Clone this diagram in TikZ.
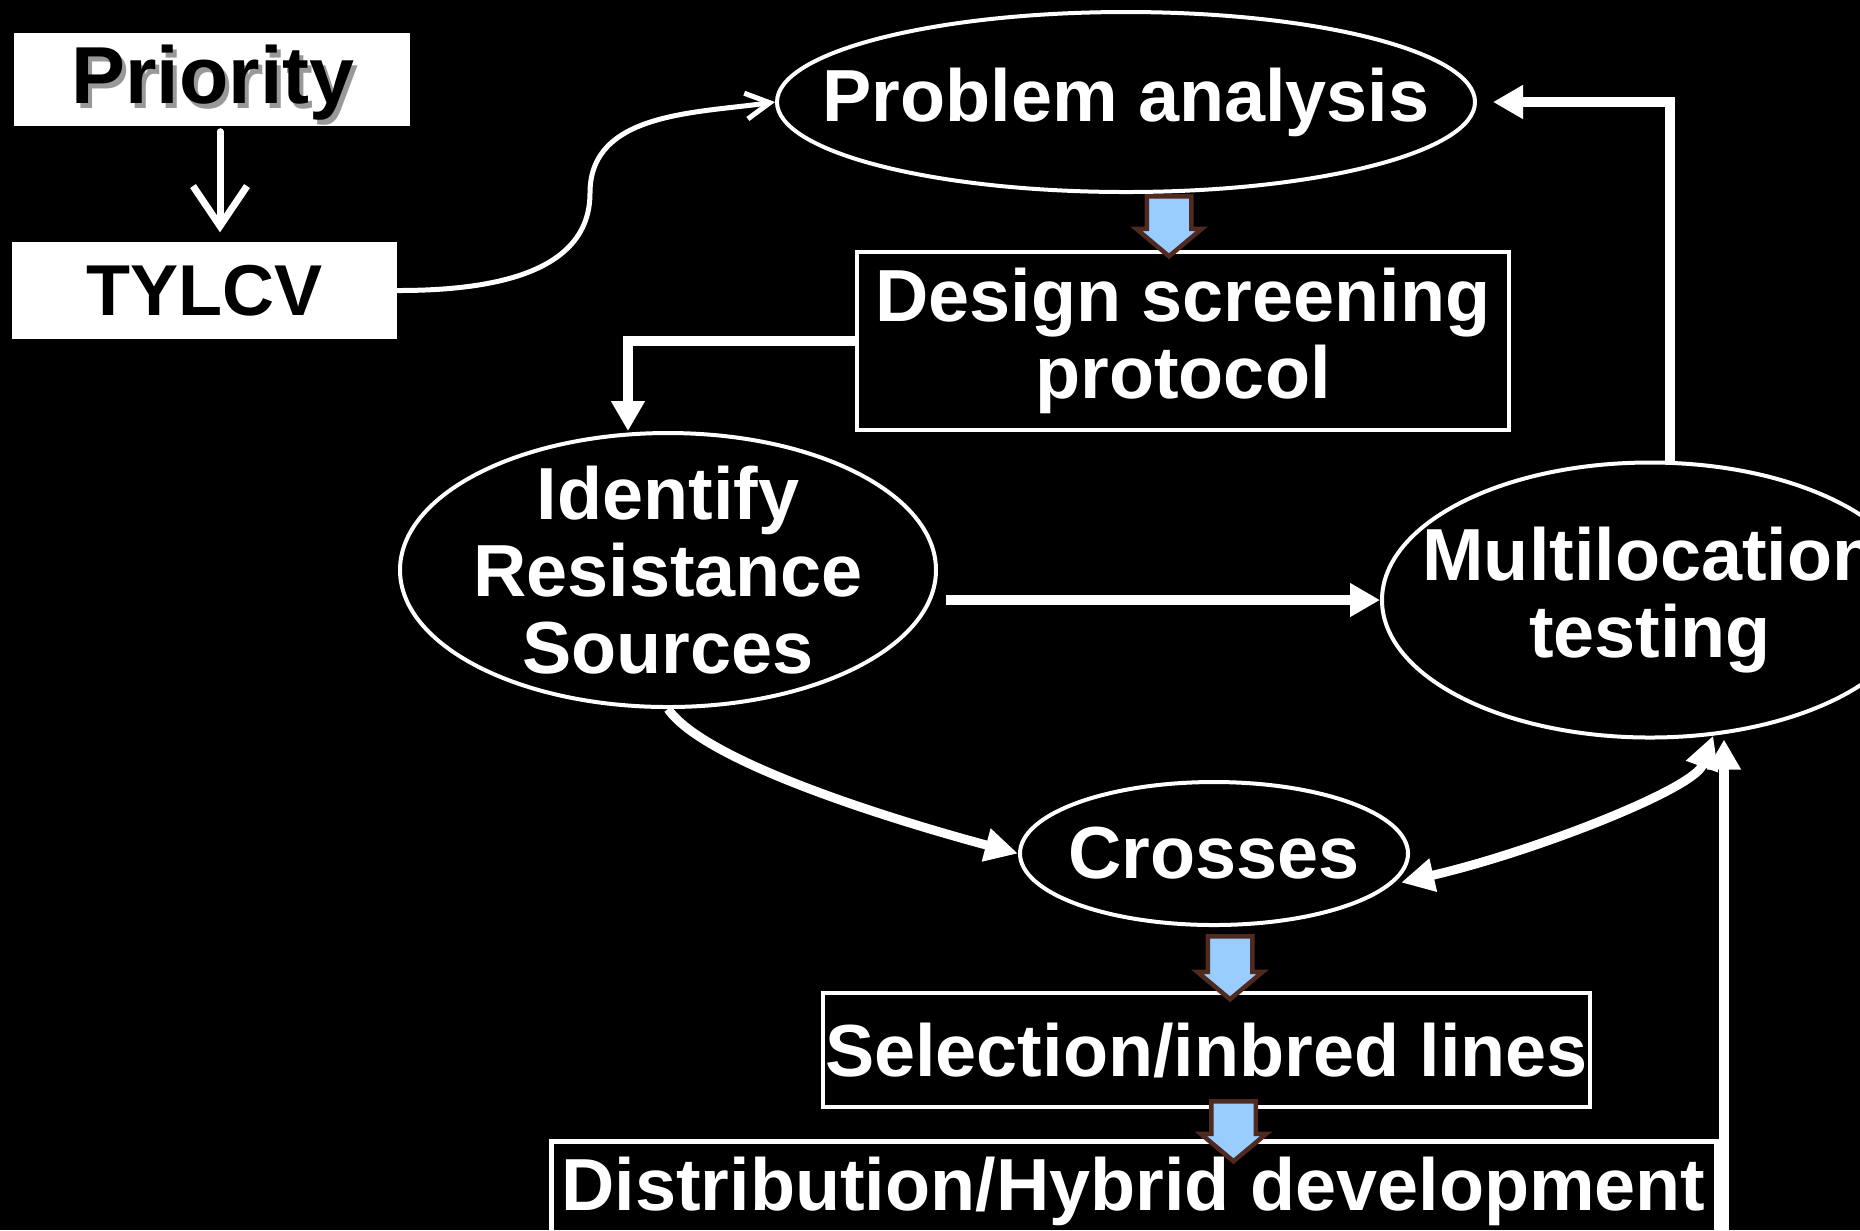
\documentclass[tikz,border=0pt]{standalone}
\usepackage{fontspec}
\setmainfont{Liberation Sans}
\usepackage{tikz}
\usetikzlibrary{arrows.meta}
\usetikzlibrary{positioning,shapes.geometric,shapes.arrows}
\definecolor{arrowblue}{HTML}{99CCFF}
\definecolor{arrowbrown}{HTML}{502A1E}

\begin{document}
\begin{tikzpicture}[
		x=0.1mm, y=0.1mm,
		every node/.style={font=\bfseries\fontsize{21}{22}\selectfont},
		WhiteBox/.style={fill=white,text=black,inner sep=0},
		Oval/.style={draw=white,line width=0.4mm,ellipse,inner sep=0},
		OvalText/.style={text=white,align=center},
		Frame/.style={draw=white,line width=0.4mm,text=white,align=center,inner sep=0},
		BlockArrow/.style={single arrow,rotate=-90,draw=arrowbrown,fill=arrowblue,
			line width=0.45mm,minimum height=6mm,inner xsep=0,inner ysep=2mm,
			single arrow head extend=1.05mm,single arrow tip angle=100},
		Thick/.style={draw=white,line width=1mm,-{Triangle[length=3mm,width=3.2mm]}},
		Curved/.style={draw=white,line width=0.9mm,-{Triangle[length=3.3mm,width=3.2mm]}},
		Thin/.style={draw=white,line width=0.5mm,line cap=round,-{Straight Barb[length=2.4mm,width=2.6mm]}},
		]
		\useasboundingbox (0,0) rectangle (1860,-1230);
		\clip (0,0) rectangle (1860,-1230);
		\fill[black] (0,0) rectangle (1860,-1230);
		
		% priority boxes
		\node[WhiteBox,minimum width=39.6mm,minimum height=9.3mm] (prio) at (212,-79.5) {};
		\node[text=gray!80,font=\bfseries\fontsize{23}{24}\selectfont] (prioshadow) at (217,-88) {Priority};
		\node[text=black,font=\bfseries\fontsize{23}{24}\selectfont] (priotext) at (213,-83) {Priority};
		\node[WhiteBox,minimum width=38.5mm,minimum height=9.7mm,font=\bfseries\fontsize{20.5}{22}\selectfont] (tylcv) at (204.5,-290.5) {TYLCV};
		
		% ovals
		\node[Oval,minimum width=69.8mm,minimum height=18mm,
		label={[OvalText]center:Problem analysis}] (pa) at (1126,-102) {};
		\node[Oval,minimum width=53.6mm,minimum height=27.4mm,
		label={[OvalText]center:Identify\\Resistance\\Sources}] (idrs) at (668,-570) {};
		\node[Oval,minimum width=53.6mm,minimum height=27.5mm,
		label={[OvalText]center:Multilocation\\testing}] (ml) at (1650,-600) {};
		\node[Oval,minimum width=38.8mm,minimum height=14.3mm,
		label={[OvalText]center:Crosses}] (cr) at (1214,-853.5) {};
		
		% boxes
		\node[Frame,minimum width=65.2mm,minimum height=17.8mm] (ds) at (1183,-341) {Design screening\\protocol};
		\node[Frame,minimum width=76.7mm,minimum height=11.4mm] (sel) at (1206.5,-1050) {Selection/inbred lines};
		\node[Frame,line width=0.5mm,minimum width=116.5mm,minimum height=10mm] (dis) at (1133.5,-1191) {Distribution/Hybrid development};
		
		% connectors
		\draw[Thin,line width=0.7mm,-{Straight Barb[length=4mm,width=5.4mm]},shorten <=0.5mm,shorten >=0.9mm]
		([xshift=0.8mm]prio.south) -- ([xshift=0.8mm]prio.south |- tylcv.north);
		
		\coordinate (bend) at (590,-193);
		\draw[Thin] (tylcv.east) to[out=0,in=-90] (bend) to[out=90,in=188] (pa.west);
		
		\draw[Thick] (ds.west) -| ([xshift=-4mm]idrs.north);
		\draw[Thick,shorten <=0.8mm] (idrs.east |- ml.west) -- (ml.west);
		\draw[Thick,shorten >=1.6mm] ([xshift=2mm]ml.north) |- (pa.east);
		
		\draw[Curved] (idrs.south) to[out=-55,in=165,looseness=0.5] (cr.west);
		\draw[Curved,{Triangle[length=3.3mm,width=3.2mm]}-{Triangle[length=3.3mm,width=3.2mm]},shorten >=1mm]
		(ml.-65) to[out=-110,in=13,out distance=5.7mm,in distance=14.5mm] (cr.-10);
		
		\coordinate (foot) at (1724,-1240);
		\draw[Thick] (foot) -- (foot |- ml.south);
		
		% block arrows
		\node[BlockArrow,anchor=tail] (pa2ds) at ([xshift=4.3mm]pa.south) {};
		\node[BlockArrow,anchor=tail,minimum height=6.3mm] (cr2sel) at ([xshift=1.6mm,yshift=-0.7mm]cr.south) {};
		\node[BlockArrow,anchor=tail] (sel2dis) at ([xshift=2.7mm,yshift=1mm]sel.south) {};
		
\end{tikzpicture}
\end{document}
